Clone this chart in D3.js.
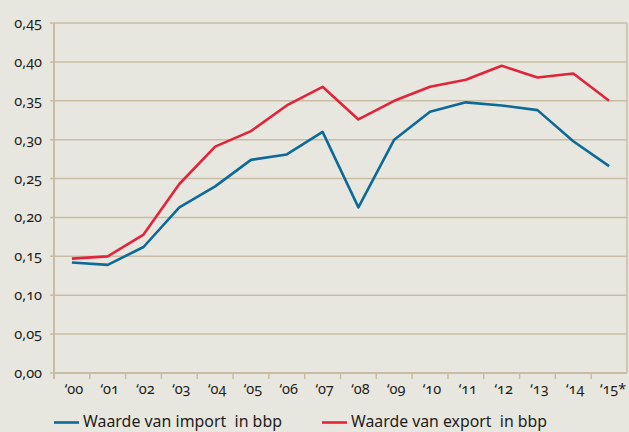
<!DOCTYPE html>
<html>
<head>
<meta charset="utf-8">
<script src="https://cdn.jsdelivr.net/npm/d3@7"></script>
<style>
  body { margin: 0; background: #e8e7df; }
  text { font-family: "Noto Sans", sans-serif; font-variant-numeric: oldstyle-nums; fill: #1d1d1b; }
</style>
</head>
<body>
<script>
// data
const years = ["‘00","‘01","‘02","‘03","‘04","‘05","‘06","‘07","‘08","‘09","‘10","‘11","‘12","‘13","‘14","‘15*"];
const importVals = [0.142,0.139,0.162,0.213,0.240,0.274,0.281,0.310,0.213,0.300,0.336,0.348,0.344,0.338,0.298,0.266];
const exportVals = [0.147,0.150,0.178,0.243,0.291,0.311,0.344,0.368,0.326,0.350,0.368,0.377,0.395,0.380,0.385,0.350];
const yTicks = [0,0.05,0.10,0.15,0.20,0.25,0.30,0.35,0.40,0.45];
const seriesNames = ["Waarde van import  in bbp", "Waarde van export  in bbp"];
const colors = ["#0d6a98", "#e2243a"];

const width = 629, height = 432;
const margin = {top: 23, right: 2, bottom: 59, left: 54};

const svg = d3.select("body").append("svg")
  .attr("width", width)
  .attr("height", height);

const x = d3.scaleBand()
  .domain(years)
  .range([margin.left, width - margin.right]);

const y = d3.scaleLinear()
  .domain([0, 0.45])
  .range([height - margin.bottom, margin.top]);

const grid = "#c9bca4";
const fmt = d => d3.format(".2f")(d).replace(".", ",");

// gridlines
svg.append("g")
  .selectAll("line")
  .data(yTicks)
  .join("line")
  .attr("x1", margin.left - 4)
  .attr("x2", width - margin.right)
  .attr("y1", d => y(d))
  .attr("y2", d => y(d))
  .attr("stroke", grid)
  .attr("stroke-width", 1.5);

// y labels
svg.append("g")
  .selectAll("text")
  .data(yTicks)
  .join("text")
  .attr("x", 42)
  .attr("y", d => y(d) + 5)
  .attr("text-anchor", "end")
  .style("font-size", "14.5px")
  .text(fmt);

// axes lines
svg.append("line")
  .attr("x1", margin.left).attr("x2", margin.left)
  .attr("y1", margin.top).attr("y2", y(0) + 6)
  .attr("stroke", grid).attr("stroke-width", 2);
svg.append("line")
  .attr("x1", width - margin.right).attr("x2", width - margin.right)
  .attr("y1", margin.top).attr("y2", y(0))
  .attr("stroke", grid).attr("stroke-width", 1.5);
svg.append("line")
  .attr("x1", margin.left).attr("x2", width - margin.right)
  .attr("y1", y(0)).attr("y2", y(0))
  .attr("stroke", grid).attr("stroke-width", 2);

// x ticks at band edges
svg.append("g")
  .selectAll("line")
  .data(years.slice(1))
  .join("line")
  .attr("x1", d => x(d))
  .attr("x2", d => x(d))
  .attr("y1", y(0))
  .attr("y2", y(0) + 6)
  .attr("stroke", grid)
  .attr("stroke-width", 1.5);

svg.append("g")
  .selectAll("text")
  .data(years)
  .join("text")
  .attr("x", (d, i) => x(d) + x.bandwidth() / 2 + (i == years.length - 1 ? 4 : 2))
  .attr("y", 394)
  .attr("text-anchor", "middle")
  .style("font-size", "14.5px")
  .text(d => d);

// lines
const line = d3.line()
  .x((d, i) => x(years[i]) + x.bandwidth() / 2)
  .y(d => y(d));

[importVals, exportVals].forEach((vals, k) => {
  svg.append("path")
    .datum(vals)
    .attr("fill", "none")
    .attr("stroke", colors[k])
    .attr("stroke-width", 2.6)
    .attr("stroke-linejoin", "round")
    .attr("d", line);
});

// legend
const legX = [54, 322];
const legW = [199, 196];
seriesNames.forEach((name, k) => {
  svg.append("line")
    .attr("x1", legX[k]).attr("x2", legX[k] + 25)
    .attr("y1", 422.5).attr("y2", 422.5)
    .attr("stroke", colors[k]).attr("stroke-width", 2.6);
  svg.append("text")
    .attr("x", legX[k] + 29)
    .attr("y", 427)
    .attr("textLength", legW[k])
    .attr("lengthAdjust", "spacingAndGlyphs")
    .style("font-size", "17px")
    .style("white-space", "pre")
    .text(name);
});
</script>
</body>
</html>
